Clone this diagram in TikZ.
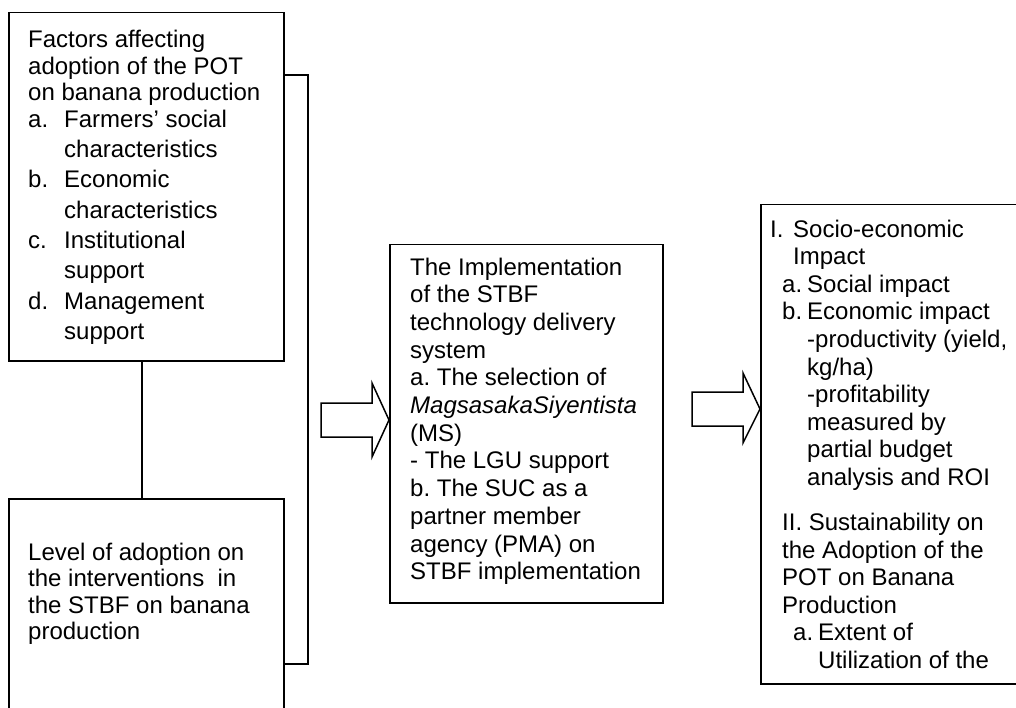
\documentclass[tikz,border=0pt]{standalone}
\usepackage{fontspec}
\setmainfont{Liberation Sans}
\frenchspacing
\begin{document}
\begin{tikzpicture}[x=1pt,y=-1pt,
  box/.style={draw=black, line width=1.5pt, rectangle, inner sep=0pt, anchor=north west},
  txt/.style={anchor=base west, inner sep=0pt, align=left, font={\fontsize{24}{26.5}\selectfont\frenchspacing}},
  link/.style={draw=black, line width=1.5pt},
  blockarrow/.style={draw=black, line width=1.5pt, fill=white, line join=miter}]
\useasboundingbox (0,0) rectangle (1016,708);
\clip (0,0) rectangle (1016,708);
% boxes
\node[box, minimum width=275pt, minimum height=348pt] (b1) at (8,12) {};
\node[box, minimum width=275pt, minimum height=230pt] (b2) at (8,498) {};
\node[box, minimum width=273pt, minimum height=358pt] (mid) at (389,244) {};
\node[box, minimum width=280pt, minimum height=479pt] (out) at (760,204) {};
% texts (anchored at the baseline of the last line)
\node[txt] (t1) at (28,339.4) {Factors affecting\\
adoption of the POT\\
on banana production\\
\makebox[36pt][l]{a.}Farmers’ social\\[3.8pt]
\hspace*{36pt}characteristics\\[3.8pt]
\makebox[36pt][l]{b.}Economic\\[3.8pt]
\hspace*{36pt}characteristics\\[3.8pt]
\makebox[36pt][l]{c.}Institutional\\[3.8pt]
\hspace*{36pt}support\\[3.8pt]
\makebox[36pt][l]{d.}Management\\[3.8pt]
\hspace*{36pt}support};
\node[txt] (t2) at (28,639.5) {Level of adoption on\\
the interventions\ \ in\\
the STBF on banana\\
production};
\node[txt, font={\fontsize{24}{27.7}\selectfont\frenchspacing}] (t3) at (410,579.7) {The Implementation\\
of the STBF\\
technology delivery\\
system\\
a. The selection of\\
\textit{MagsasakaSiyentista}\\
(MS)\\
- The LGU support\\
b. The SUC as a\\
partner member\\
agency (PMA) on\\
STBF implementation};
\node[txt, font={\fontsize{24}{27.6}\selectfont\frenchspacing}] (t4) at (770,668.5) {\makebox[23pt][l]{I.}Socio-economic\\
\hspace*{23pt}Impact\\
\hspace*{12pt}\makebox[25pt][l]{a.}Social impact\\
\hspace*{12pt}\makebox[25pt][l]{b.}Economic impact\\
\hspace*{37pt}-productivity (yield,\\
\hspace*{37pt}kg/ha)\\
\hspace*{37pt}-profitability\\
\hspace*{37pt}measured by\\
\hspace*{37pt}partial budget\\
\hspace*{37pt}analysis and ROI\\[17.5pt]
\hspace*{12pt}II. Sustainability on\\
\hspace*{12pt}the Adoption of the\\
\hspace*{12pt}POT on Banana\\
\hspace*{12pt}Production\\
\hspace*{23pt}\makebox[25pt][l]{a.}Extent of\\
\hspace*{48pt}Utilization of the};
% connectors
\draw[link] ([xshift=-4.5pt]b1.south) -- ([xshift=-4.5pt]b2.north);
\coordinate (br) at (308,0);
\draw[link] ([yshift=-63pt]b1.north east) -| ([yshift=-166pt]b2.north east -| br) -- ([yshift=-166pt]b2.north east);
% block arrows
\draw[blockarrow] (321,403) -- (372,403) -- (372,383) -- (mid.west |- 0,420) -- (372,457) -- (372,437) -- (321,437) -- cycle;
\draw[blockarrow] (692,392) -- (743,392) -- (743,373) -- (out.west |- 0,409) -- (743,443) -- (743,426) -- (692,426) -- cycle;
\end{tikzpicture}
\end{document}
